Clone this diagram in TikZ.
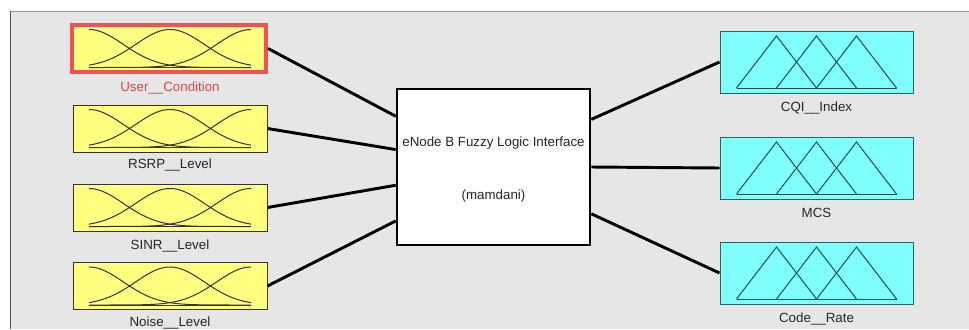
\documentclass[tikz,border=0pt]{standalone}
\usepackage{fontspec}
\setmainfont{Liberation Sans}
\usetikzlibrary{calc}

\definecolor{panelgray}{RGB}{230,230,230}
\definecolor{mfyellow}{RGB}{255,255,128}
\definecolor{mfcyan}{RGB}{128,255,255}
\definecolor{selred}{RGB}{238,82,82}
\definecolor{mfteal}{RGB}{28,78,78}

\tikzset{every picture/.style={line width=0.75pt}}
\tikzset{
  inbox/.style={draw=black!80, fill=mfyellow, minimum width=145.5pt, minimum height=35.25pt, inner sep=0pt},
  selbox/.style={inbox, draw=selred, line width=3pt},
  outbox/.style={draw=mfteal!90, fill=mfcyan, minimum width=144.75pt, minimum height=46.5pt, inner sep=0pt},
  fisbox/.style={draw=black, fill=white, line width=2pt, minimum width=144.75pt, minimum height=117pt, inner sep=0pt},
  varlabel/.style={inner sep=0.75pt, text=black!85, font=\fontsize{10}{12}\selectfont},
  link/.style={line width=2.2pt, black},
  mfcurve/.style={line width=0.75pt, black!80},
  mftri/.style={line width=0.75pt, mfteal}
}

% gaussian membership functions, centred at (#1,#2)
\newcommand{\gaussset}[2]{%
  \foreach \m in {-81,0,81}
    \draw[mfcurve] plot[domain=-81:81, samples=60, smooth] ({#1+\x},{#2+19-38*exp(-0.5*((\x-\m)/34.4)^2)});
  \draw[mfcurve] (#1-81,#2+19) -- (#1+81,#2+19);
}
% triangular membership functions, centred at (#1,#2)
\newcommand{\triset}[2]{%
  \foreach \m in {-40,0,40}
    \draw[mftri] (#1+\m-40,#2+26) -- (#1+\m,#2-26) -- (#1+\m+40,#2+26);
  \draw[mftri] (#1-80,#2+26) -- (#1+80,#2+26);
}

\begin{document}
\begin{tikzpicture}[x=0.75pt,y=0.75pt,yscale=-1,xscale=1]
\useasboundingbox (0,0) rectangle (969,329);

% Panel
\fill[panelgray] (10,11) rectangle (969,329);
\draw[black!40] (10,11) -- (969,11);
\draw[black!70] (10,11) -- (10,329);

% Inputs
\node[selbox] (user) at (169,48.5) {};
\gaussset{170}{48.5}
\node[varlabel, text=selred!90!black] (userlbl) at (170,88) {User\_\_Condition};

\node[inbox] (rsrp) at (170,128.5) {};
\gaussset{170}{128.5}
\node[varlabel] (rsrplbl) at (170,165) {RSRP\_\_Level};

\node[inbox] (sinr) at (170,207.5) {};
\gaussset{170}{207.5}
\node[varlabel] (sinrlbl) at (170,246) {SINR\_\_Level};

\node[inbox] (noise) at (170,286) {};
\gaussset{170}{286}
\node[varlabel] (noiselbl) at (170,323) {Noise\_\_Level};

% System
\node[fisbox] (fis) at (493.5,167) {};
\node[varlabel] (fisname) at (493.5,143) {eNode B Fuzzy Logic Interface};
\node[varlabel] (fistype) at (493.5,196) {(mamdani)};

% Outputs
\node[outbox] (cqi) at (816.5,62) {};
\triset{816.5}{62}
\node[varlabel] (cqilbl) at (816.5,108) {CQI\_\_Index};

\node[outbox] (mcs) at (816.5,168) {};
\triset{816.5}{168}
\node[varlabel] (mcslbl) at (816.5,213) {MCS};

\node[outbox] (rate) at (816.5,273) {};
\triset{816.5}{273}
\node[varlabel] (ratelbl) at (816.5,319) {Code\_\_Rate};

% Links
\draw[link] (user.east) -- ($(fis.north west)!0.18!(fis.south west)$);
\draw[link] (rsrp.east) -- ($(fis.north west)!0.39!(fis.south west)$);
\draw[link] (sinr.east) -- ($(fis.north west)!0.615!(fis.south west)$);
\draw[link] (noise.east) -- ($(fis.north west)!0.84!(fis.south west)$);

\draw[link] ($(fis.north east)!0.2!(fis.south east)$) -- (cqi.west);
\draw[link] (fis.east) -- (mcs.west);
\draw[link] ($(fis.north east)!0.795!(fis.south east)$) -- (rate.west);

\end{tikzpicture}
\end{document}
